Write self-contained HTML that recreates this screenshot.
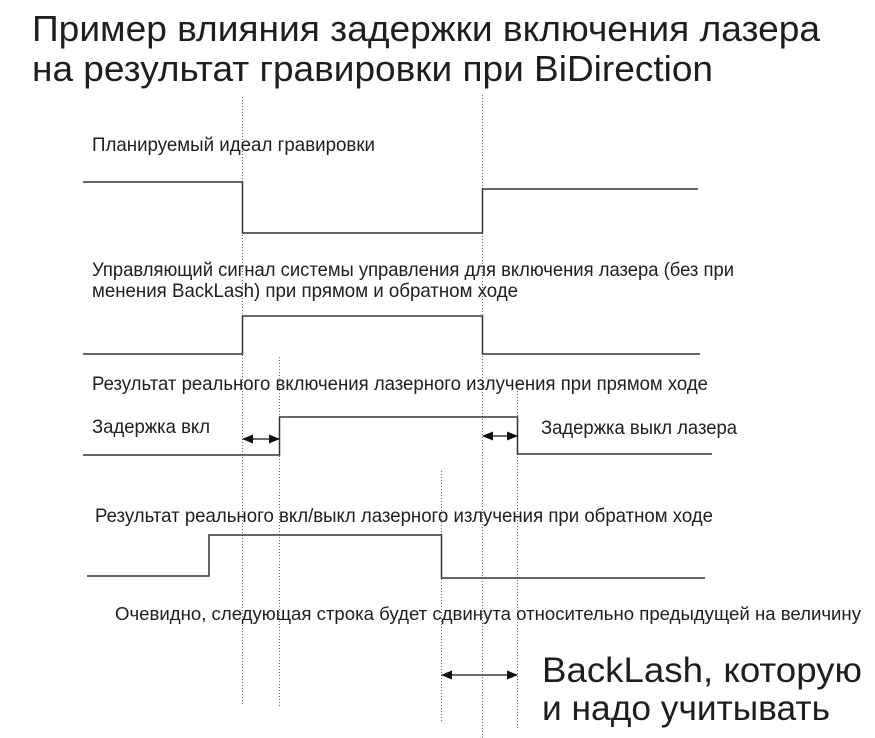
<!DOCTYPE html>
<html>
<head>
<meta charset="utf-8">
<style>
  html, body { margin: 0; padding: 0; background: #ffffff; }
  svg { display: block; }
  text { font-family: "Liberation Sans", "DejaVu Sans", sans-serif; fill: #1e1e1e; }
</style>
</head>
<body>
<svg width="875" height="738" viewBox="0 0 875 738" xmlns="http://www.w3.org/2000/svg">
  <defs>
    <marker id="ah" markerWidth="11" markerHeight="9" refX="10" refY="4.5" orient="auto-start-reverse" markerUnits="userSpaceOnUse">
      <path d="M0,0 L11,4.5 L0,9 Z" fill="#111"/>
    </marker>
  </defs>

  <!-- Title -->
  <text x="32" y="41" font-size="36" textLength="788" lengthAdjust="spacingAndGlyphs">Пример влияния задержки включения лазера</text>
  <text x="32" y="81" font-size="36" textLength="681" lengthAdjust="spacingAndGlyphs">на результат гравировки при BiDirection</text>

  <!-- Dotted vertical guide lines -->
  <g stroke="#666" stroke-width="1" stroke-dasharray="1 2" fill="none">
    <line x1="242.5" y1="97" x2="242.5" y2="706"/>
    <line x1="482.5" y1="95" x2="482.5" y2="738"/>
    <line x1="279.5" y1="357" x2="279.5" y2="706"/>
    <line x1="517.5" y1="385" x2="517.5" y2="729"/>
    <line x1="441.5" y1="471" x2="441.5" y2="722"/>
  </g>

  <!-- Waveforms -->
  <g stroke="#333" stroke-width="1.5" fill="none">
    <polyline points="83,182 242.5,182 242.5,233 482.5,233 482.5,189 698,189"/>
    <polyline points="83,354 242.5,354 242.5,316 482.5,316 482.5,354 700,354"/>
    <polyline points="83,455 279.5,455 279.5,417 517.5,417 517.5,454 712,454"/>
    <polyline points="87,576 209,576 209,535 441.5,535 441.5,578 705,578"/>
  </g>

  <!-- Arrows -->
  <g stroke="#111" stroke-width="1.2" fill="none">
    <line x1="243" y1="439" x2="279" y2="439" marker-start="url(#ah)" marker-end="url(#ah)"/>
    <line x1="483" y1="436" x2="517" y2="436" marker-start="url(#ah)" marker-end="url(#ah)"/>
    <line x1="442" y1="675" x2="517" y2="675" marker-start="url(#ah)" marker-end="url(#ah)"/>
  </g>

  <!-- Labels -->
  <text x="92" y="151" font-size="19.5" textLength="283" lengthAdjust="spacingAndGlyphs">Планируемый идеал гравировки</text>

  <text x="92" y="276" font-size="19.5" textLength="642" lengthAdjust="spacingAndGlyphs">Управляющий сигнал системы управления для включения лазера (без при</text>
  <text x="92" y="297" font-size="19.5" textLength="426" lengthAdjust="spacingAndGlyphs">менения BackLash) при прямом и обратном ходе</text>

  <text x="92" y="390" font-size="19.5" textLength="616" lengthAdjust="spacingAndGlyphs">Результат реального включения лазерного излучения при прямом ходе</text>

  <text x="92" y="433" font-size="19.5" textLength="118" lengthAdjust="spacingAndGlyphs">Задержка вкл</text>
  <text x="541" y="434" font-size="19.5" textLength="196" lengthAdjust="spacingAndGlyphs">Задержка выкл лазера</text>

  <text x="95" y="522" font-size="19.5" textLength="618" lengthAdjust="spacingAndGlyphs">Результат реального вкл/выкл лазерного излучения при обратном ходе</text>

  <text x="115" y="620" font-size="18" textLength="746" lengthAdjust="spacingAndGlyphs">Очевидно, следующая строка будет сдвинута относительно предыдущей на величину</text>

  <text x="542" y="682" font-size="35" textLength="320" lengthAdjust="spacingAndGlyphs">BackLash, которую</text>
  <text x="542" y="720" font-size="35" textLength="288" lengthAdjust="spacingAndGlyphs">и надо учитывать</text>
</svg>
</body>
</html>
